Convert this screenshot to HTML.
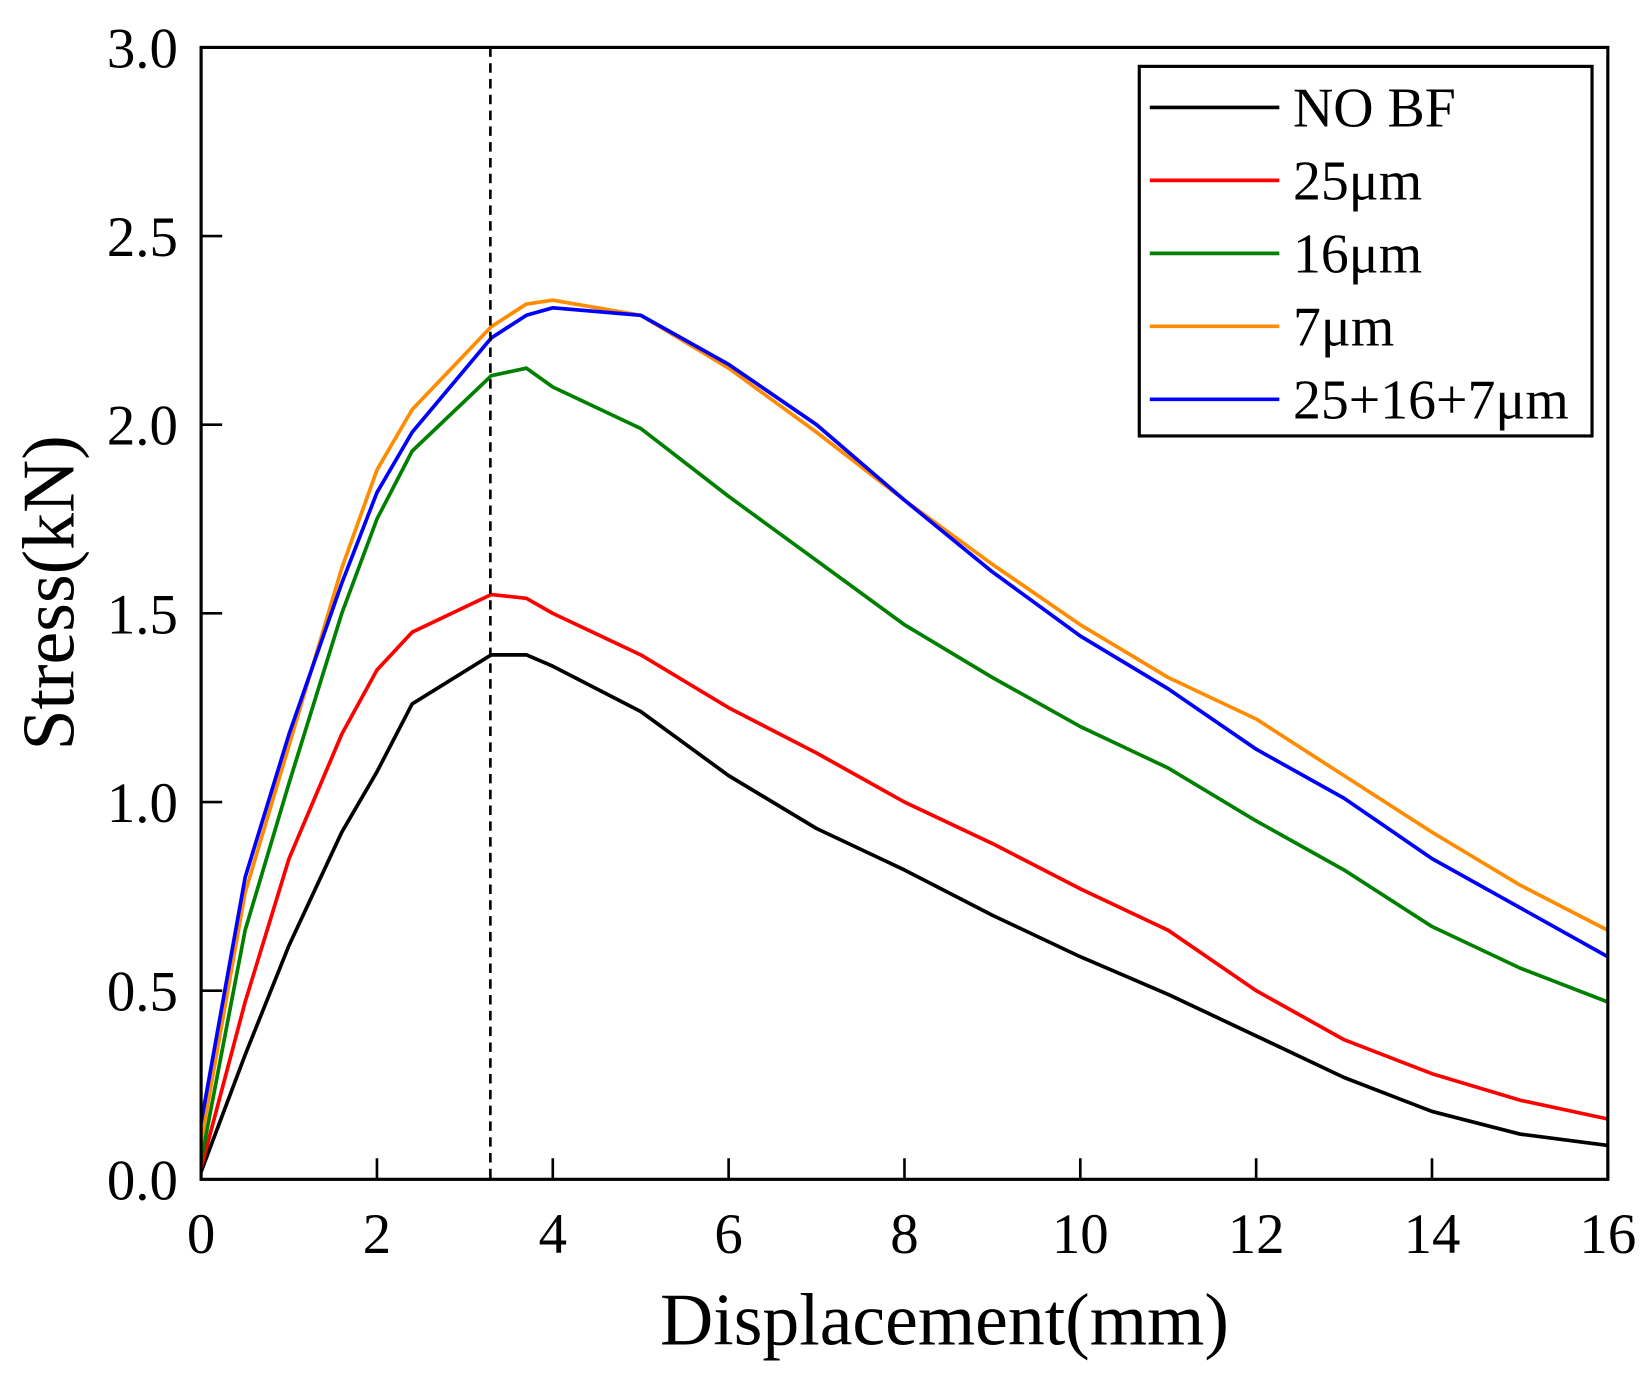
<!DOCTYPE html>
<html><head><meta charset="utf-8"><style>
html,body{margin:0;padding:0;background:#fff;}
svg{display:block;font-family:"Liberation Serif",serif;}
</style></head><body>
<svg id="chart" width="1651" height="1391" viewBox="0 0 1568 1321" xmlns="http://www.w3.org/2000/svg">
<g id="plot"></g>
</svg>
<script>
const xTicks=[0,2,4,6,8,10,12,14,16];
const yTicks=[0.0,0.5,1.0,1.5,2.0,2.5,3.0];
const yTickLabels=["0.0","0.5","1.0","1.5","2.0","2.5","3.0"];
const seriesNames=["NO BF","25μm","16μm","7μm","25+16+7μm"];
const seriesColors=["#000000","#ff0000","#008000","#ff8c00","#0000ff"];
const xs=[0,0.5,1,1.6,2,2.4,3.3,3.7,4,5,6,7,8,9,10,11,12,13,14,15,16];
const noBF=[0.02,0.33,0.62,0.92,1.08,1.26,1.39,1.39,1.36,1.24,1.07,0.93,0.82,0.70,0.59,0.49,0.38,0.27,0.18,0.12,0.09];
const s25=[0.03,0.47,0.85,1.18,1.35,1.45,1.55,1.54,1.50,1.39,1.25,1.13,1.00,0.89,0.77,0.66,0.50,0.37,0.28,0.21,0.16];
const s16=[0.05,0.66,1.05,1.5,1.75,1.93,2.13,2.15,2.10,1.99,1.81,1.64,1.47,1.33,1.20,1.09,0.95,0.82,0.67,0.56,0.47];
const s7=[0.1,0.76,1.15,1.62,1.88,2.04,2.26,2.32,2.33,2.29,2.15,1.98,1.80,1.63,1.47,1.33,1.22,1.07,0.92,0.78,0.66];
const sMix=[0.15,0.8,1.18,1.58,1.82,1.98,2.23,2.29,2.31,2.29,2.16,2.00,1.80,1.61,1.44,1.30,1.14,1.01,0.85,0.72,0.59];
const allSeries=[noBF,s25,s16,s7,sMix];
const peakX=3.29;

const X0=191,X1=1527,Y0=1120,Y1=45;
const sx=v=>X0+(v-0)/(16-0)*(X1-X0);
const sy=v=>Y0-(v-0)/(3-0)*(Y0-Y1);
const NS="http://www.w3.org/2000/svg";
const g=document.getElementById('plot');
function mk(t,a,p){const e=document.createElementNS(NS,t);for(const k in a)e.setAttribute(k,a[k]);(p||g).appendChild(e);return e;}

allSeries.forEach((s,i)=>{
  const d=s.map((v,j)=>(j?'L':'M')+sx(xs[j]).toFixed(1)+','+sy(v).toFixed(1)).join(' ');
  const p=mk('path',{d:d,fill:'none',stroke:seriesColors[i],'stroke-width':3.5,'stroke-linejoin':'round'});
  
  
});
const dl=mk('line',{x1:sx(peakX),x2:sx(peakX),y1:Y1,y2:Y0,stroke:'#000','stroke-width':2.5,'stroke-dasharray':'9,6'});


const fr=mk('rect',{x:X0,y:Y1,width:X1-X0,height:Y0-Y1,fill:'none',stroke:'#000','stroke-width':3});


xTicks.forEach(v=>{
  mk('line',{x1:sx(v),x2:sx(v),y1:Y0,y2:Y0-20,stroke:'#000','stroke-width':2.5});
  const t=mk('text',{x:sx(v),y:Y0+70,'font-size':54,'text-anchor':'middle'});
  t.textContent=v;
  
  
});
yTicks.forEach((v,i)=>{
  mk('line',{x1:X0,x2:X0+20,y1:sy(v),y2:sy(v),stroke:'#000','stroke-width':2.5});
  const t=mk('text',{x:169,y:sy(v)+19,'font-size':54,'text-anchor':'end'});
  t.textContent=yTickLabels[i];
  
  
});
const xt=mk('text',{x:897,y:1277,'font-size':70,'text-anchor':'middle'});
xt.textContent='Displacement(mm)';


const yt=mk('text',{x:0,y:0,'font-size':70,'text-anchor':'middle',transform:'translate(70,563) rotate(-90)'});
yt.textContent='Stress(kN)';


const lg=mk('g',{});


mk('rect',{x:1082,y:63,width:430,height:351,fill:'#fff',stroke:'#000','stroke-width':3},lg);
seriesNames.forEach((n,i)=>{
  const y=102+i*69.3;
  const e=mk('g',{},lg);
  
  
  mk('line',{x1:1092,x2:1215,y1:y,y2:y,stroke:seriesColors[i],'stroke-width':3.5},e);
  const t=mk('text',{x:1228,y:y+18,'font-size':53},e);
  t.textContent=n;
});
</script>
</body></html>
